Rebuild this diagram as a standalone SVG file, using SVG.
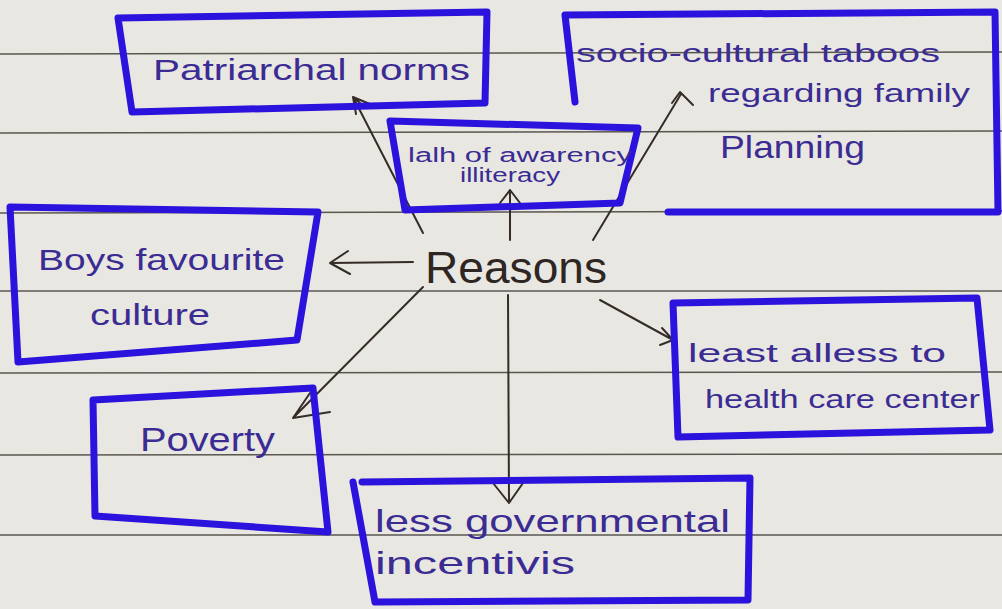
<svg xmlns="http://www.w3.org/2000/svg" width="1002" height="609" viewBox="0 0 1002 609">
<defs>
<style>
.paper{fill:#e9e7e2}
.rule{stroke:#5a5650;stroke-width:1.5;fill:none}
.box{fill:none;stroke:#2b12dc;stroke-width:7;stroke-linejoin:round;stroke-linecap:round}
.lbl{font-family:"Liberation Sans","DejaVu Sans",sans-serif;fill:#3b2c94}
.ctr{font-family:"Liberation Sans","DejaVu Sans",sans-serif;fill:#2e2622}
.con{stroke:#352c28;stroke-width:2;fill:none;stroke-linecap:round;stroke-linejoin:round}
</style>
</defs>
<rect class="paper" x="0" y="0" width="1002" height="609"/>
<g id="ruling">
<line class="rule" x1="0" y1="54" x2="1002" y2="52"/>
<line class="rule" x1="0" y1="133" x2="1002" y2="131"/>
<line class="rule" x1="0" y1="213" x2="1002" y2="211"/>
<line class="rule" x1="0" y1="291" x2="1002" y2="291"/>
<line class="rule" x1="0" y1="373" x2="1002" y2="372"/>
<line class="rule" x1="0" y1="455" x2="1002" y2="454"/>
<line class="rule" x1="0" y1="535" x2="1002" y2="535"/>
</g>
<g id="connectors">
<path class="con" d="M413 262 L330 263 M348 251 L330 263 L350 274"/>
<path class="con" d="M510 240 L510 190 M500 203 L510 190 L520 203"/>
<path class="con" d="M423 233 L353 97 M353 97 L377 107 M360 103 L353 97 L356 114"/>
<path class="con" d="M593 240 L681 94 M672 103 L680 92 L693 105"/>
<path class="con" d="M600 300 L673 340 M662 328 L673 340 L660 345"/>
<path class="con" d="M508 295 L509 503 M493 483 L509 503 L523 483"/>
<path class="con" d="M423 287 L293 418 M310 393 L293 418 L330 412"/>
</g>
<g id="node-reasons">
<text class="ctr" x="425" y="283" font-size="44" textLength="182" lengthAdjust="spacingAndGlyphs">Reasons</text>
</g>
<g id="node-patriarchal">
<path class="box" d="M118 18 L487 12 L485 103 L132 112 Z"/>
<text class="lbl" x="153" y="80" font-size="30" textLength="317" lengthAdjust="spacingAndGlyphs">Patriarchal norms</text>
</g>
<g id="node-awareness">
<path class="box" d="M390 121 L638 128 L620 203 L405 210 Z"/>
<text class="lbl" x="408" y="162" font-size="20" textLength="224" lengthAdjust="spacingAndGlyphs">lalh of awarency</text>
<text class="lbl" x="460" y="182" font-size="20" textLength="100" lengthAdjust="spacingAndGlyphs">illiteracy</text>
</g>
<g id="node-taboos">
<path class="box" d="M575 102 L565 15 L995 12 L998 212 L668 212"/>
<text class="lbl" x="576" y="62" font-size="26" textLength="364" lengthAdjust="spacingAndGlyphs">socio-cultural taboos</text>
<text class="lbl" x="708" y="102" font-size="26" textLength="262" lengthAdjust="spacingAndGlyphs">regarding family</text>
<text class="lbl" x="720" y="158" font-size="32" textLength="145" lengthAdjust="spacingAndGlyphs">Planning</text>
</g>
<g id="node-boys">
<path class="box" d="M10 207 L318 212 L297 340 L18 362 Z"/>
<text class="lbl" x="38" y="270" font-size="30" textLength="247" lengthAdjust="spacingAndGlyphs">Boys favourite</text>
<text class="lbl" x="90" y="325" font-size="30" textLength="120" lengthAdjust="spacingAndGlyphs">culture</text>
</g>
<g id="node-poverty">
<path class="box" d="M93 400 L313 388 L328 532 L95 516 Z"/>
<text class="lbl" x="140" y="451" font-size="34" textLength="135" lengthAdjust="spacingAndGlyphs">Poverty</text>
</g>
<g id="node-health">
<path class="box" d="M673 303 L977 298 L990 430 L678 437 Z"/>
<text class="lbl" x="688" y="362" font-size="26" textLength="258" lengthAdjust="spacingAndGlyphs">least alless to</text>
<text class="lbl" x="705" y="408" font-size="26" textLength="275" lengthAdjust="spacingAndGlyphs">health care center</text>
</g>
<g id="node-incentives">
<path class="box" d="M362 482 L750 478 L748 600 L375 602 L353 482"/>
<text class="lbl" x="375" y="532" font-size="32" textLength="355" lengthAdjust="spacingAndGlyphs">less governmental</text>
<text class="lbl" x="375" y="574" font-size="32" textLength="200" lengthAdjust="spacingAndGlyphs">incentivis</text>
</g>
</svg>
